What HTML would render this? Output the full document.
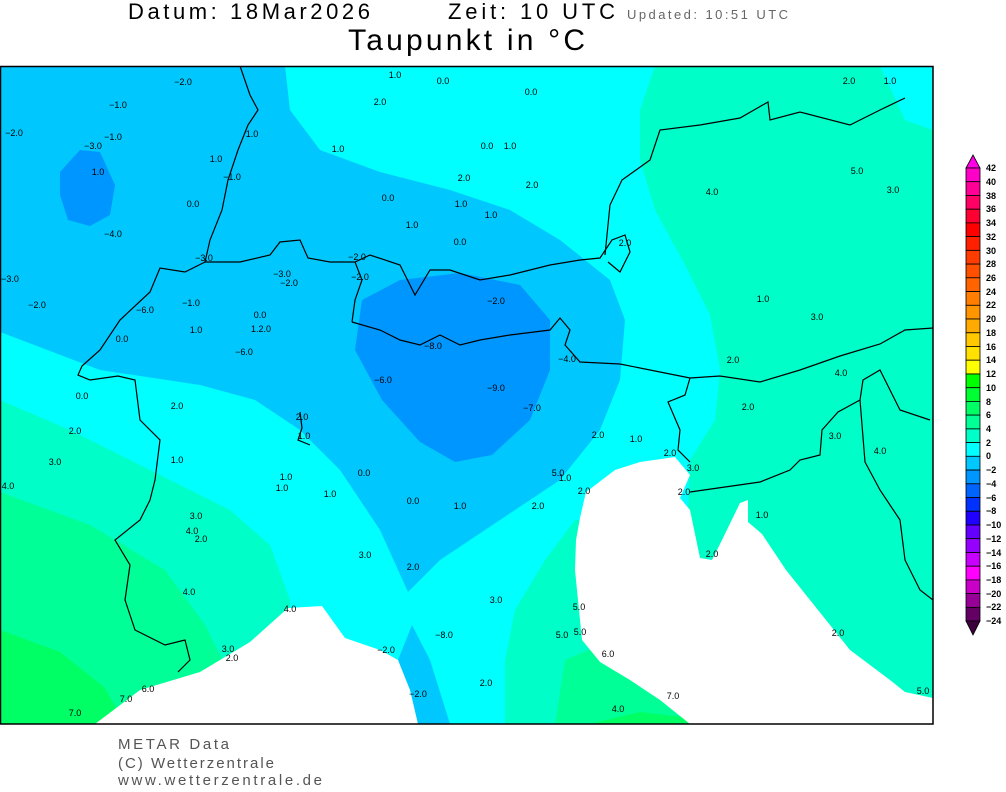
<!DOCTYPE html>
<html><head><meta charset="utf-8"><style>
body{margin:0;background:#fff;width:1006px;height:787px;overflow:hidden;font-family:"Liberation Sans",sans-serif}
svg text{font-family:"Liberation Sans",sans-serif}
</style></head><body>
<svg width="1006" height="787" viewBox="0 0 1006 787" xmlns="http://www.w3.org/2000/svg">
<text x="128" y="19" font-size="22" fill="#000" textLength="242" lengthAdjust="spacing">Datum:  18Mar2026</text>
<text x="448" y="19" font-size="22" fill="#000" textLength="167" lengthAdjust="spacing">Zeit:  10  UTC</text>
<text x="627" y="19" font-size="13" fill="#666" textLength="161" lengthAdjust="spacing">Updated:  10:51  UTC</text>
<text x="348" y="50" font-size="30" fill="#000" textLength="237" lengthAdjust="spacing">Taupunkt in °C</text>
<defs><clipPath id="c"><rect x="0" y="66" width="933" height="658"/></clipPath></defs>
<g clip-path="url(#c)">
<rect x="0" y="66" width="933" height="658" fill="#00ffff"/>
<path d="M655,66 L640,110 L640,160 L655,210 L685,265 L710,315 L720,370 L715,420 L690,460 L680,724 L933,724 L933,130 L905,120 L880,66 Z" fill="#00ffc8"/>
<path d="M0,400 L70,430 L150,470 L230,510 L270,545 L290,600 L295,724 L0,724 Z" fill="#00ffc8"/>
<path d="M575,520 L545,560 L515,610 L505,660 L505,724 L700,724 L700,520 Z" fill="#00ffc8"/>
<path d="M565,660 L600,645 L650,660 L690,700 L700,724 L555,724 Z" fill="#00ff96"/>
<path d="M590,724 L640,712 L690,718 L700,724 Z" fill="#00ff64"/>
<path d="M0,66 L285,66 L290,110 L320,150 L380,172 L450,190 L510,210 L560,240 L610,280 L625,320 L620,380 L600,430 L560,480 L500,520 L440,560 L408,592 L380,530 L340,470 L300,430 L255,400 L200,385 L100,370 L0,332 Z" fill="#00c8ff"/>
<path d="M398,660 L412,625 L430,660 L450,724 L415,724 Z" fill="#00c8ff"/>
<path d="M362,300 L400,280 L460,273 L520,285 L550,320 L550,370 L530,420 L492,455 L455,462 L420,442 L382,400 L355,350 Z" fill="#0096ff"/>
<path d="M60,172 L80,150 L100,152 L115,185 L110,215 L90,226 L68,220 L60,195 Z" fill="#0096ff"/>
<path d="M0,492 L90,525 L165,570 L205,625 L225,665 L230,724 L0,724 Z" fill="#00ff96"/>
<path d="M0,630 L60,652 L105,688 L125,724 L0,724 Z" fill="#00ff64"/>
<path d="M95,724 L140,690 L200,672 L250,642 L288,608 L322,606 L345,638 L380,650 L398,660 L410,690 L418,724 Z" fill="#fff"/>
<path d="M640,462 L675,457 L690,475 L680,498 L690,510 L700,558 L712,560 L722,540 L740,503 L748,500 L748,522 L762,534 L786,570 L810,600 L850,650 L890,680 L905,692 L933,698 L933,724 L690,724 L660,700 L630,680 L600,662 L582,640 L575,570 L576,540 L580,518 L586,492 L615,470 Z" fill="#fff"/>
<g fill="none" stroke="#000" stroke-width="1.2">
<polyline points="240,66 250,95 258,110 248,125 238,150 228,180 222,210 210,240 205,262 240,262 270,255 280,242 300,240 308,258 330,262 355,262 370,255 400,265 415,295 430,270 450,270 480,280 510,275 550,265 580,260 600,258 612,240 625,235 630,252 620,272 608,262"/>
<polyline points="605,255 610,205 622,180 650,160 660,130 700,125 740,118 768,102 770,120 800,112 850,125 880,110 905,98"/>
<polyline points="205,262 185,272 160,268 150,292 120,320 100,350 82,366 78,375 90,380 118,376 135,380 140,420 160,440 155,480 150,500 140,520 115,540 130,565 125,600 135,630 165,645 185,640 190,660 178,672"/>
<polyline points="352,322 380,330 400,340 420,345 440,335 460,345 480,340 510,335 550,330 560,318 570,330 565,345 580,362 620,364 660,372 690,378 720,376 760,382 800,370 840,356 880,344 905,330 933,328"/>
<polyline points="355,262 362,280 355,300 352,322"/>
<polyline points="690,378 685,395 668,402 680,430 678,450 690,462"/>
<polyline points="690,492 760,482 790,470 800,460 820,455 822,430 838,412 860,400"/>
<polyline points="933,600 920,590 905,560 900,520 880,490 865,462 860,400 863,380 880,370 900,410 930,420"/>
<polyline points="300,412 302,428 298,440 310,445"/>
</g>
</g>
<rect x="0.5" y="66.5" width="932.5" height="657.5" fill="none" stroke="#000" stroke-width="1.5"/>
<g font-size="9" fill="#000" text-anchor="middle">
<text x="183" y="85">−2.0</text><text x="395" y="78">1.0</text><text x="443" y="84">0.0</text><text x="531" y="95">0.0</text><text x="849" y="84">2.0</text><text x="890" y="84">1.0</text>
<text x="118" y="108">−1.0</text><text x="380" y="105">2.0</text><text x="14" y="136">−2.0</text><text x="113" y="140">−1.0</text><text x="93" y="149">−3.0</text><text x="252" y="137">1.0</text><text x="98" y="175">1.0</text>
<text x="338" y="152">1.0</text><text x="487" y="149">0.0</text><text x="510" y="149">1.0</text><text x="216" y="162">1.0</text><text x="232" y="180">−1.0</text><text x="464" y="181">2.0</text><text x="532" y="188">2.0</text>
<text x="712" y="195">4.0</text><text x="857" y="174">5.0</text><text x="893" y="193">3.0</text><text x="193" y="207">0.0</text><text x="388" y="201">0.0</text><text x="461" y="207">1.0</text><text x="491" y="218">1.0</text><text x="412" y="228">1.0</text>
<text x="113" y="237">−4.0</text><text x="460" y="245">0.0</text><text x="625" y="246">2.0</text><text x="204" y="261">−3.0</text><text x="357" y="260">−2.0</text><text x="282" y="277">−3.0</text><text x="289" y="286">−2.0</text><text x="360" y="280">−2.0</text><text x="10" y="282">−3.0</text>
<text x="37" y="308">−2.0</text><text x="191" y="306">−1.0</text><text x="145" y="313">−6.0</text><text x="260" y="318">0.0</text><text x="496" y="304">−2.0</text><text x="763" y="302">1.0</text><text x="817" y="320">3.0</text>
<text x="196" y="333">1.0</text><text x="261" y="332">1.2.0</text><text x="122" y="342">0.0</text><text x="433" y="349">−8.0</text><text x="567" y="362">−4.0</text><text x="244" y="355">−6.0</text><text x="733" y="363">2.0</text>
<text x="383" y="383">−6.0</text><text x="496" y="391">−9.0</text><text x="841" y="376">4.0</text><text x="82" y="399">0.0</text><text x="177" y="409">2.0</text><text x="532" y="411">−7.0</text><text x="748" y="410">2.0</text><text x="302" y="420">2.0</text>
<text x="75" y="434">2.0</text><text x="304" y="439">1.0</text><text x="598" y="438">2.0</text><text x="636" y="442">1.0</text><text x="835" y="439">3.0</text><text x="880" y="454">4.0</text><text x="670" y="456">2.0</text><text x="55" y="465">3.0</text><text x="177" y="463">1.0</text>
<text x="693" y="471">3.0</text><text x="364" y="476">0.0</text><text x="286" y="480">1.0</text><text x="558" y="476">5.0</text><text x="565" y="481">1.0</text><text x="8" y="489">4.0</text><text x="282" y="491">1.0</text><text x="330" y="497">1.0</text><text x="584" y="494">2.0</text><text x="684" y="495">2.0</text>
<text x="413" y="504">0.0</text><text x="460" y="509">1.0</text><text x="538" y="509">2.0</text><text x="196" y="519">3.0</text><text x="762" y="518">1.0</text><text x="192" y="534">4.0</text><text x="201" y="542">2.0</text><text x="365" y="558">3.0</text><text x="712" y="557">2.0</text>
<text x="413" y="570">2.0</text><text x="189" y="595">4.0</text><text x="496" y="603">3.0</text><text x="290" y="612">4.0</text><text x="579" y="610">5.0</text><text x="444" y="638">−8.0</text><text x="562" y="638">5.0</text><text x="580" y="635">5.0</text><text x="838" y="636">2.0</text>
<text x="228" y="652">3.0</text><text x="232" y="661">2.0</text><text x="386" y="653">−2.0</text><text x="608" y="657">6.0</text><text x="148" y="692">6.0</text><text x="486" y="686">2.0</text><text x="126" y="702">7.0</text><text x="418" y="697">−2.0</text><text x="673" y="699">7.0</text><text x="923" y="694">5.0</text>
<text x="618" y="712">4.0</text><text x="75" y="716">7.0</text>
</g>
<g stroke="#000" stroke-width="0.8">
<polygon points="966,168 980,168 973,155" fill="#ff00e6"/>
<rect x="966" y="168.0" width="14" height="13.73" fill="#ff00c8"/><rect x="966" y="181.7" width="14" height="13.73" fill="#ff0096"/><rect x="966" y="195.5" width="14" height="13.73" fill="#ff0064"/><rect x="966" y="209.2" width="14" height="13.73" fill="#ff0032"/><rect x="966" y="222.9" width="14" height="13.73" fill="#ff0000"/><rect x="966" y="236.6" width="14" height="13.73" fill="#ff2000"/><rect x="966" y="250.4" width="14" height="13.73" fill="#ff3c00"/><rect x="966" y="264.1" width="14" height="13.73" fill="#ff5000"/><rect x="966" y="277.8" width="14" height="13.73" fill="#ff6400"/><rect x="966" y="291.6" width="14" height="13.73" fill="#ff7d00"/><rect x="966" y="305.3" width="14" height="13.73" fill="#ff9600"/><rect x="966" y="319.0" width="14" height="13.73" fill="#ffaa00"/><rect x="966" y="332.8" width="14" height="13.73" fill="#ffc800"/><rect x="966" y="346.5" width="14" height="13.73" fill="#ffe100"/><rect x="966" y="360.2" width="14" height="13.73" fill="#ffff00"/><rect x="966" y="374.0" width="14" height="13.73" fill="#00ff00"/><rect x="966" y="387.7" width="14" height="13.73" fill="#00ff32"/><rect x="966" y="401.4" width="14" height="13.73" fill="#00ff64"/><rect x="966" y="415.1" width="14" height="13.73" fill="#00ff96"/><rect x="966" y="428.9" width="14" height="13.73" fill="#00ffc8"/><rect x="966" y="442.6" width="14" height="13.73" fill="#00ffff"/><rect x="966" y="456.3" width="14" height="13.73" fill="#00c8ff"/><rect x="966" y="470.1" width="14" height="13.73" fill="#0096ff"/><rect x="966" y="483.8" width="14" height="13.73" fill="#0064ff"/><rect x="966" y="497.5" width="14" height="13.73" fill="#0032ff"/><rect x="966" y="511.3" width="14" height="13.73" fill="#2000ff"/><rect x="966" y="525.0" width="14" height="13.73" fill="#6400ff"/><rect x="966" y="538.7" width="14" height="13.73" fill="#9600ff"/><rect x="966" y="552.5" width="14" height="13.73" fill="#c800ff"/><rect x="966" y="566.2" width="14" height="13.73" fill="#ff00ff"/><rect x="966" y="579.9" width="14" height="13.73" fill="#c800c8"/><rect x="966" y="593.6" width="14" height="13.73" fill="#960096"/><rect x="966" y="607.4" width="14" height="13.73" fill="#640064"/>
<polygon points="966,621 980,621 973,635" fill="#3c003c"/>
</g>
<g font-size="9" fill="#000" font-weight="bold">
<text x="986" y="171">42</text><text x="986" y="185">40</text><text x="986" y="199">38</text><text x="986" y="212">36</text><text x="986" y="226">34</text><text x="986" y="240">32</text><text x="986" y="254">30</text><text x="986" y="267">28</text><text x="986" y="281">26</text><text x="986" y="295">24</text><text x="986" y="308">22</text><text x="986" y="322">20</text><text x="986" y="336">18</text><text x="986" y="350">16</text><text x="986" y="363">14</text><text x="986" y="377">12</text><text x="986" y="391">10</text><text x="986" y="405">8</text><text x="986" y="418">6</text><text x="986" y="432">4</text><text x="986" y="446">2</text><text x="986" y="459">0</text><text x="986" y="473">−2</text><text x="986" y="487">−4</text><text x="986" y="501">−6</text><text x="986" y="514">−8</text><text x="986" y="528">−10</text><text x="986" y="542">−12</text><text x="986" y="556">−14</text><text x="986" y="569">−16</text><text x="986" y="583">−18</text><text x="986" y="597">−20</text><text x="986" y="610">−22</text><text x="986" y="624">−24</text>
</g>
<g font-size="15" fill="#555">
<text x="118" y="749" textLength="111" lengthAdjust="spacing">METAR Data</text>
<text x="118" y="768" textLength="156" lengthAdjust="spacing">(C) Wetterzentrale</text>
<text x="118" y="785" textLength="204" lengthAdjust="spacing">www.wetterzentrale.de</text>
</g>
</svg>
</body></html>
